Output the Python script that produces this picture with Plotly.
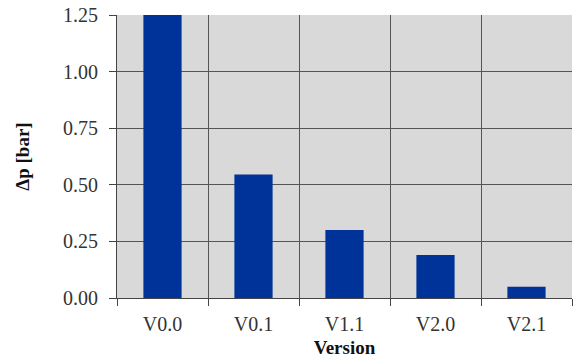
import plotly.graph_objects as go

versions = ["V0.0", "V0.1", "V1.1", "V2.0", "V2.1"]
dp_bar = [1.25, 0.545, 0.30, 0.19, 0.05]
y_ticks = [0.0, 0.25, 0.5, 0.75, 1.0, 1.25]
y_tick_labels = ["0.00", "0.25", "0.50", "0.75", "1.00", "1.25"]

fig = go.Figure()
fig.add_trace(go.Bar(x=versions, y=dp_bar, marker=dict(color="#003399", line=dict(width=0))))

font = "Liberation Serif"
fig.update_layout(
    width=574, height=363,
    margin=dict(l=117, r=2, t=15, b=65),
    paper_bgcolor="white", plot_bgcolor="#d9d9d9",
    bargap=0.58, showlegend=False,
    font=dict(family=font, size=20, color="#333"),
)
fig.update_xaxes(
    type="category", tickson="boundaries", ticks="outside", ticklen=7,
    tickcolor="#444", showgrid=True, gridcolor="#555", gridwidth=1,
    showline=True, linecolor="#444", linewidth=1,
    tickfont=dict(family=font, size=20, color="#333"), ticklabelstandoff=8,
    title=dict(text="<b>Version</b>", font=dict(family=font, size=19, color="#111"), standoff=6),
)
fig.update_yaxes(
    range=[0, 1.25], tickvals=y_ticks, ticktext=y_tick_labels,
    ticks="outside", ticklen=7, tickcolor="#444",
    showgrid=True, gridcolor="#555", gridwidth=1,
    showline=True, linecolor="#444", linewidth=1, zeroline=False,
    tickfont=dict(family=font, size=20, color="#333"), ticklabelstandoff=7,
    title=dict(text="<b>Δp [bar]</b>", font=dict(family=font, size=19, color="#111"), standoff=28),
)
fig.write_html(
    "out.html",
    config={"displayModeBar": False},
    post_script="document.body.style.margin='0';document.body.style.overflow='hidden';",
)
